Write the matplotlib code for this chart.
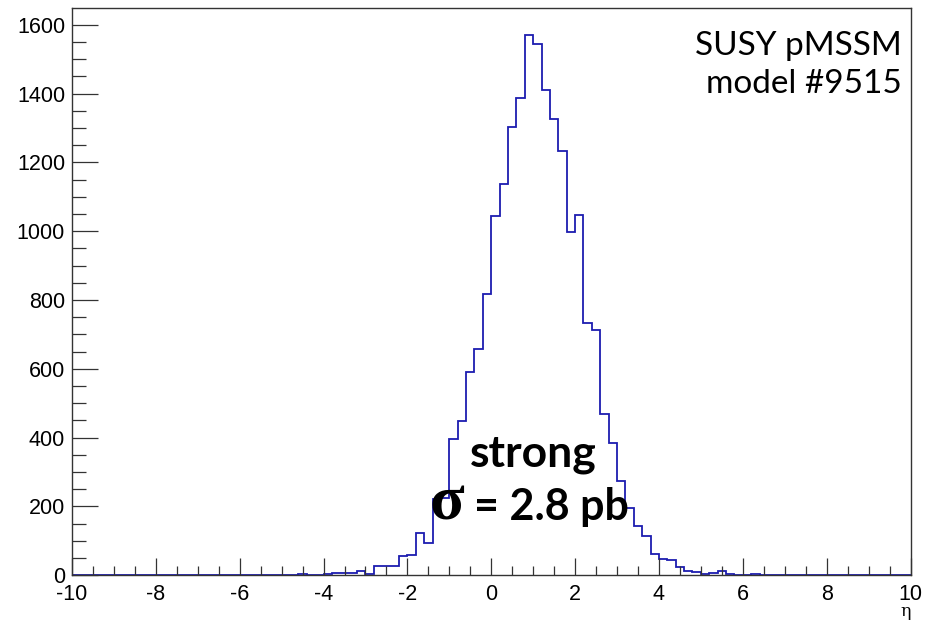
import numpy as np
import matplotlib
matplotlib.use("Agg")
import matplotlib.pyplot as plt
from matplotlib.ticker import MultipleLocator

# ---- data ----
x_min, x_max, bin_width = -10.0, 10.0, 0.2
counts = [
    0, 0, 0, 0, 0, 0, 0, 0, 0, 0,          # -10.0 .. -8.2
    0, 0, 0, 0, 0, 0, 0, 0, 0, 0,          # -8.0 .. -6.2
    0, 0, 0, 0, 0, 0, 0, 3, 0, 0,          # -6.0 .. -4.2
    4, 7, 8, 8, 13, 3, 26, 26, 27, 57,     # -4.0 .. -2.2
    58, 122, 95, 221, 225, 397, 449, 591, 659, 817,   # -2.0 .. -0.2
    1045, 1136, 1304, 1388, 1570, 1543, 1410, 1326, 1234, 999,  # 0.0 .. 1.8
    1048, 733, 712, 470, 383, 274, 197, 143, 115, 61,  # 2.0 .. 3.8
    48, 44, 25, 13, 10, 5, 8, 12, 3, 0,    # 4.0 .. 5.8
    0, 3, 0, 0, 0, 0, 0, 0, 0, 0,          # 6.0 .. 7.8
    0, 0, 0, 0, 0, 0, 0, 0, 0, 0,          # 8.0 .. 9.8
]
x_ticks = [-10, -8, -6, -4, -2, 0, 2, 4, 6, 8, 10]
y_ticks = [0, 200, 400, 600, 800, 1000, 1200, 1400, 1600]
x_title = "η"
label_model_1 = "SUSY pMSSM"
label_model_2 = "model #9515"
label_strong = "strong"
label_sigma_sym = "σ"
label_sigma_val = "= 2.8 pb"

# ---- figure ----
W, H = 932, 624
fig = plt.figure(figsize=(W / 100, H / 100), dpi=100)
L, R, B, T = 72, 910.5, 575.3, 8
ax = fig.add_axes([L / W, 1 - B / H, (R - L) / W, (B - T) / H])

edges = np.linspace(x_min, x_max, len(counts) + 1)
ax.stairs(counts, edges, color="#1c1cb0", linewidth=1.3, baseline=0)

ax.set_xlim(x_min, x_max)
ax.set_ylim(0, 1.05 * max(counts))

ax.set_xticks(x_ticks)
ax.set_yticks(y_ticks)
ax.xaxis.set_minor_locator(MultipleLocator(0.5))
ax.yaxis.set_minor_locator(MultipleLocator(50))

tick_font = {"family": "Liberation Sans", "size": 15.5}
ax.set_xticklabels([str(t) for t in x_ticks], fontdict=tick_font)
ax.set_yticklabels([str(t) for t in y_ticks], fontdict=tick_font)

ax.tick_params(axis="x", which="major", direction="in", length=12.2, width=0.9,
               color="#333333", pad=6.5, top=False)
ax.tick_params(axis="x", which="minor", direction="in", length=6.5, width=0.9,
               color="#333333", top=False)
ax.tick_params(axis="y", which="major", direction="in", length=18.7, width=0.9,
               color="#333333", pad=5, right=False)
ax.tick_params(axis="y", which="minor", direction="in", length=10, width=0.9,
               color="#333333", right=False)
for s in ax.spines.values():
    s.set_linewidth(1.0)
    s.set_color("#333333")

def px(x, y):
    return x / W, 1 - y / H

fig.text(*px(906, 612), x_title, ha="center", va="center",
         family="DejaVu Serif", fontsize=12.5)

fig.text(*px(902, 55), label_model_1, ha="right", va="baseline",
         family="Lato", fontsize=24)
fig.text(*px(902, 93), label_model_2, ha="right", va="baseline",
         family="Lato", fontsize=24)

fig.text(*px(533, 467), label_strong, ha="center", va="baseline",
         family="Lato", fontweight="bold", fontsize=32)
fig.text(*px(430, 520), label_sigma_sym, ha="left", va="baseline",
         family="Liberation Serif", fontweight="bold", fontsize=46)
fig.text(*px(474, 520), label_sigma_val, ha="left", va="baseline",
         family="Lato", fontweight="bold", fontsize=31)

fig.savefig("out.png", dpi=100)
